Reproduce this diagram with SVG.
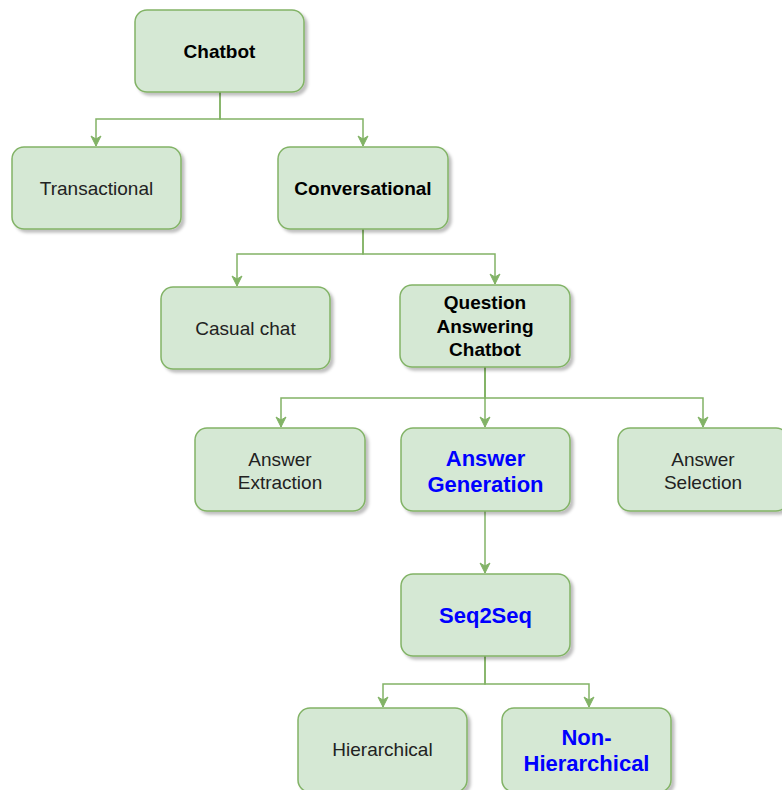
<svg xmlns="http://www.w3.org/2000/svg" width="782" height="790" viewBox="0 0 782 790">
<style>
.box{fill:#d5e8d4;stroke:#82b366;stroke-width:1.5;filter:url(#sh)}
.t{font-family:"Liberation Sans",Arial,sans-serif;font-size:19px;fill:#222;text-anchor:middle}
.b{font-weight:bold;fill:#000}
.blue{font-weight:bold;fill:#0000ff;font-size:22px}
.c{fill:none;stroke:#82b366;stroke-width:1.5}
</style>
<defs>
<filter id="sh" x="-10%" y="-10%" width="130%" height="140%">
<feDropShadow dx="3" dy="3" stdDeviation="1.5" flood-color="#000" flood-opacity="0.25"/>
</filter>
<marker id="a" viewBox="0 0 12 12" refX="11" refY="6" markerWidth="12" markerHeight="12" markerUnits="userSpaceOnUse" orient="auto">
<path d="M1,1 L11,6 L1,11 L4,6 Z" fill="#82b366" stroke="#82b366" stroke-width="1"/>
</marker>
</defs>
<rect width="782" height="790" fill="#fff"/>
<g id="connectors">
<path class="c" d="M220,92 V119 H96 V146" marker-end="url(#a)"/>
<path class="c" d="M220,92 V119 H363 V146" marker-end="url(#a)"/>
<path class="c" d="M363,229 V254 H237 V286" marker-end="url(#a)"/>
<path class="c" d="M363,229 V254 H495 V284" marker-end="url(#a)"/>
<path class="c" d="M485,367 V398 H281 V427" marker-end="url(#a)"/>
<path class="c" d="M485,367 V427" marker-end="url(#a)"/>
<path class="c" d="M485,367 V398 H703 V427" marker-end="url(#a)"/>
<path class="c" d="M485,511 V573" marker-end="url(#a)"/>
<path class="c" d="M485,656 V684 H383 V707" marker-end="url(#a)"/>
<path class="c" d="M485,656 V684 H589 V707" marker-end="url(#a)"/>
</g>
<g id="chatbot"><rect class="box" x="135" y="10" width="169" height="82" rx="12"/><text class="t b" x="219.5" y="57.5">Chatbot</text></g>
<g id="transactional"><rect class="box" x="12" y="147" width="169" height="82" rx="12"/><text class="t" x="96.5" y="194.5">Transactional</text></g>
<g id="conversational"><rect class="box" x="278" y="147" width="170" height="82" rx="12"/><text class="t b" x="363" y="194.5">Conversational</text></g>
<g id="casual"><rect class="box" x="161" y="287" width="169" height="82" rx="12"/><text class="t" x="245.5" y="334.5">Casual chat</text></g>
<g id="qa"><rect class="box" x="400" y="285" width="170" height="82" rx="12"/><text class="t b" x="485" y="308.5">Question</text><text class="t b" x="485" y="332.5">Answering</text><text class="t b" x="485" y="355.5">Chatbot</text></g>
<g id="extraction"><rect class="box" x="195" y="428" width="170" height="83" rx="12"/><text class="t" x="280" y="465.5">Answer</text><text class="t" x="280" y="488.5">Extraction</text></g>
<g id="generation"><rect class="box" x="401" y="428" width="169" height="83" rx="12"/><text class="t blue" x="485.5" y="466">Answer</text><text class="t blue" x="485.5" y="492">Generation</text></g>
<g id="selection"><rect class="box" x="618" y="428" width="170" height="83" rx="12"/><text class="t" x="703" y="465.5">Answer</text><text class="t" x="703" y="488.5">Selection</text></g>
<g id="seq2seq"><rect class="box" x="401" y="574" width="169" height="82" rx="12"/><text class="t blue" x="485.5" y="623">Seq2Seq</text></g>
<g id="hierarchical"><rect class="box" x="298" y="708" width="169" height="84" rx="12"/><text class="t" x="382.5" y="755.5">Hierarchical</text></g>
<g id="nonhierarchical"><rect class="box" x="502" y="708" width="169" height="84" rx="12"/><text class="t blue" x="586.5" y="745">Non-</text><text class="t blue" x="586.5" y="771">Hierarchical</text></g>
</svg>
